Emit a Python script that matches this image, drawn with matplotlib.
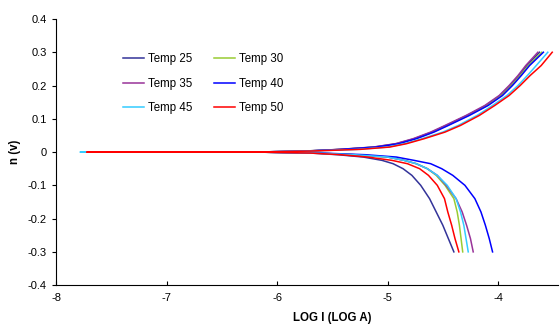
import numpy as np
import matplotlib
matplotlib.use('Agg')
import matplotlib.pyplot as plt

plt.rcParams['font.family'] = ['Liberation Sans', 'DejaVu Sans']
plt.rcParams['axes.unicode_minus'] = False

# series names and colours
labels = ['Temp 25', 'Temp 30', 'Temp 35', 'Temp 40', 'Temp 45', 'Temp 50']
colors = ['#333399', '#99CC33', '#993399', '#0000FF', '#33CCFF', '#FF0000']

# cathodic branch: potential levels and log I read for each series
cath_E = [-0.3, -0.26, -0.22, -0.18, -0.14, -0.1, -0.07, -0.05, -0.035, -0.025,
          -0.015, -0.008, -0.003, 0.0]
cath_25 = [-4.40, -4.45, -4.50, -4.56, -4.62, -4.70, -4.78, -4.86, -4.95, -5.05,
           -5.22, -5.45, -5.70, -6.20]
cath_30 = [-4.32, -4.335, -4.35, -4.37, -4.40, -4.48, -4.56, -4.64, -4.74, -4.85,
           -5.00, -5.30, -5.65, -6.20]
cath_35 = [-4.225, -4.25, -4.285, -4.325, -4.38, -4.47, -4.55, -4.64, -4.74, -4.85,
           -5.00, -5.30, -5.65, -6.20]
cath_40 = [-4.05, -4.08, -4.115, -4.155, -4.21, -4.30, -4.41, -4.51, -4.61, -4.76,
           -4.92, -5.20, -5.60, -6.20]
cath_45 = [-4.27, -4.29, -4.31, -4.34, -4.38, -4.46, -4.55, -4.64, -4.74, -4.85,
           -5.00, -5.30, -5.65, -6.20]
cath_50 = [-4.355, -4.39, -4.42, -4.455, -4.485, -4.55, -4.63, -4.71, -4.82, -4.96,
           -5.18, -5.42, -5.70, -6.20]

# flat part near zero current
flat_x = [-7.75, -7.77, -7.74, -7.76, -7.78, -7.72]

# anodic branch
anod_E = [0.0, 0.003, 0.008, 0.015, 0.025, 0.04, 0.06, 0.08, 0.11, 0.14, 0.17,
          0.2, 0.23, 0.26, 0.3]
anod_25 = [-6.20, -5.75, -5.43, -5.12, -4.92, -4.76, -4.60, -4.47, -4.28, -4.11,
           -3.98, -3.89, -3.81, -3.74, -3.625]
anod_30 = [-6.20, -5.74, -5.42, -5.11, -4.91, -4.75, -4.59, -4.46, -4.27, -4.10,
           -3.97, -3.88, -3.80, -3.725, -3.605]
anod_35 = [-6.20, -5.75, -5.44, -5.13, -4.93, -4.77, -4.61, -4.48, -4.29, -4.12,
           -3.99, -3.90, -3.82, -3.75, -3.64]
anod_40 = [-6.20, -5.73, -5.41, -5.10, -4.90, -4.74, -4.58, -4.45, -4.26, -4.09,
           -3.96, -3.87, -3.79, -3.715, -3.59]
anod_45 = [-6.20, -5.71, -5.28, -5.00, -4.85, -4.69, -4.50, -4.36, -4.19, -4.05,
           -3.92, -3.82, -3.735, -3.655, -3.55]
anod_50 = [-6.20, -5.70, -5.25, -4.98, -4.83, -4.67, -4.48, -4.34, -4.17, -4.03,
           -3.90, -3.80, -3.71, -3.61, -3.51]

cath = [cath_25, cath_30, cath_35, cath_40, cath_45, cath_50]
anod = [anod_25, anod_30, anod_35, anod_40, anod_45, anod_50]

fig = plt.figure(figsize=(5.6, 3.27), dpi=100)
ax = fig.add_axes([0.1, 0.128, 0.896, 0.814])

lines = []
for i in range(len(labels)):
    xs = list(cath[i]) + [flat_x[i]] + list(anod[i])
    ys = list(cath_E) + [0.0] + list(anod_E)
    ln, = ax.plot(xs, ys, color=colors[i], lw=1.1, label=labels[i])
    lines.append(ln)

ax.set_xlim(-8, -3.46)
ax.set_ylim(-0.4, 0.4)
ax.set_xticks([-8, -7, -6, -5, -4])
ax.set_yticks(np.round(np.arange(-0.4, 0.41, 0.1), 1))
ax.set_yticklabels(['-0.4', '-0.3', '-0.2', '-0.1', '0', '0.1', '0.2', '0.3', '0.4'])
ax.tick_params(axis='both', labelsize=8, length=3, width=0.8)
ax.tick_params(axis='x', direction='in', pad=6)
ax.spines['top'].set_visible(False)
ax.spines['right'].set_visible(False)
ax.set_xlabel('LOG I (LOG A)', fontsize=8.3, fontweight='bold')
ax.xaxis.set_label_coords(0.55, -0.1)
ax.set_ylabel('n (v)', fontsize=8.3, fontweight='bold')
ax.yaxis.set_label_coords(-0.07, 0.5)

# row-major legend order like the original
order = [0, 2, 4, 1, 3, 5]
ax.legend([lines[k] for k in order], [labels[k] for k in order], ncol=2,
          loc='upper left', bbox_to_anchor=(0.113, 0.91), frameon=False,
          fontsize=8.3, handlelength=1.83, columnspacing=1.83, labelspacing=1.09,
          handletextpad=0.35)

fig.savefig('out.png', dpi=100)
